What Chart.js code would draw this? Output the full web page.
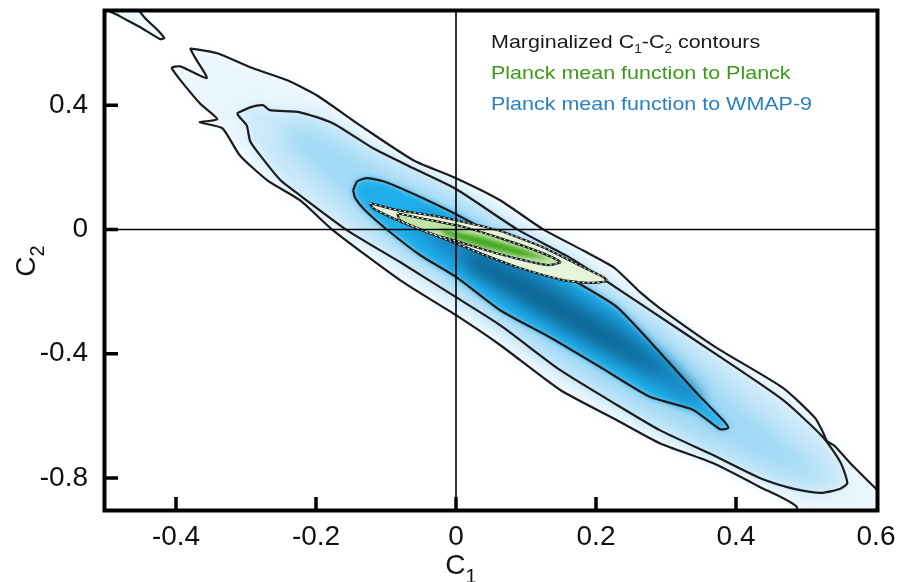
<!DOCTYPE html>
<html>
<head>
<meta charset="utf-8">
<script src="https://cdn.jsdelivr.net/npm/chart.js@4.4.1/dist/chart.umd.min.js"></script>
<style>
  html, body { margin: 0; padding: 0; background: #fff; }
  #wrap { width: 906px; height: 582px; }
</style>
</head>
<body>
<div id="wrap"><canvas id="contourChart" width="906" height="582"></canvas></div>
<script>
// Axis ranges and ticks
const xRange = [-0.5, 0.6];
const yRange = [-0.9, 0.7];
const xTicks = [-0.4, -0.2, 0, 0.2, 0.4, 0.6];
const yTicks = [-0.8, -0.4, 0, 0.4];
const xTitle = 'C1';
const yTitle = 'C2';
const legendLabels = ['Marginalized C1-C2 contours', 'Planck mean function to Planck', 'Planck mean function to WMAP-9'];

// WMAP-9 contours (C1, C2)
const sigma3Blue = [
  [-0.380, 0.583], [-0.341, 0.567], [-0.294, 0.522], [-0.241, 0.480], [-0.199, 0.432],
  [-0.137, 0.335], [-0.061, 0.223], [0, 0.165], [0.063, 0.094], [0.124, 0.001],
  [0.181, -0.067], [0.227, -0.125], [0.263, -0.202], [0.291, -0.253], [0.373, -0.382],
  [0.467, -0.510], [0.513, -0.607], [0.524, -0.652], [0.530, -0.681], [0.541, -0.697],
  [0.563, -0.752], [0.600, -0.835], [0.634, -0.909], [0.634, -1.0], [0.477, -0.967],
  [0.487, -0.894], [0.434, -0.829], [0.367, -0.752], [0.291, -0.688], [0.230, -0.614],
  [0.149, -0.517], [0.063, -0.372], [0, -0.276], [-0.080, -0.163], [-0.176, -0.002],
  [-0.223, 0.094], [-0.270, 0.159], [-0.309, 0.239], [-0.334, 0.326], [-0.366, 0.345],
  [-0.341, 0.355], [-0.366, 0.406], [-0.406, 0.519], [-0.394, 0.525], [-0.356, 0.487],
  [-0.373, 0.554]
];
const sigma3Island = [
  [-0.459, 0.722], [-0.444, 0.680], [-0.426, 0.641], [-0.417, 0.616], [-0.423, 0.613],
  [-0.451, 0.651], [-0.480, 0.686], [-0.501, 0.712]
];
const sigma2Blue = [
  [-0.313, 0.374], [-0.294, 0.393], [-0.276, 0.400], [-0.266, 0.384], [-0.223, 0.377],
  [-0.176, 0.342], [-0.119, 0.262], [-0.061, 0.197], [0, 0.130], [0.087, 0.001],
  [0.159, -0.086], [0.206, -0.153], [0.277, -0.260], [0.373, -0.404], [0.467, -0.549],
  [0.524, -0.668], [0.549, -0.749], [0.559, -0.816], [0.549, -0.835], [0.524, -0.848],
  [0.506, -0.845], [0.477, -0.832], [0.434, -0.800], [0.367, -0.726], [0.291, -0.646],
  [0.230, -0.565], [0.149, -0.453], [0.063, -0.308], [0, -0.218], [-0.080, -0.105],
  [-0.156, -0.002], [-0.223, 0.110], [-0.251, 0.159], [-0.280, 0.239], [-0.294, 0.284],
  [-0.299, 0.335], [-0.309, 0.361]
];
const sigma1Blue = [
  [-0.147, 0.126], [-0.141, 0.155], [-0.127, 0.165], [-0.104, 0.155], [-0.066, 0.120],
  [-0.023, 0.075], [0, 0.049], [0.063, -0.028], [0.159, -0.153], [0.230, -0.250],
  [0.301, -0.420], [0.349, -0.539], [0.381, -0.613], [0.389, -0.639], [0.377, -0.643],
  [0.339, -0.581], [0.277, -0.539], [0.206, -0.443], [0.134, -0.347], [0.063, -0.260],
  [0, -0.153], [-0.051, -0.083], [-0.094, -0.009], [-0.130, 0.062], [-0.144, 0.101]
];
// WMAP-9 density shading levels
const blueRidge = [
  [-0.237, 0.352], [-0.180, 0.303], [-0.109, 0.207], [0, 0.094], [0.149, -0.099],
  [0.291, -0.324], [0.406, -0.549], [0.491, -0.710], [0.534, -0.800], [0.506, -0.813],
  [0.434, -0.759], [0.349, -0.678], [0.234, -0.549], [0.120, -0.388], [0, -0.195],
  [-0.109, -0.018], [-0.194, 0.159], [-0.251, 0.287]
];
const blueCore = [
  [-0.051, 0.056], [0.020, -0.009], [0.120, -0.131], [0.234, -0.292], [0.320, -0.453],
  [0.356, -0.549], [0.341, -0.565], [0.277, -0.485], [0.163, -0.340], [0.049, -0.179],
  [-0.023, -0.067], [-0.059, 0.004]
];
const blueCoreDark = [
  [0.020, -0.067], [0.120, -0.179], [0.234, -0.340], [0.299, -0.453], [0.284, -0.459],
  [0.206, -0.372], [0.106, -0.244], [0.013, -0.115]
];

// Planck contours
const sigma2Planck = [
  [-0.123, 0.085], [-0.084, 0.062], [-0.037, 0.046], [-0.001, 0.030], [0.059, -0.002],
  [0.124, -0.057], [0.181, -0.121], [0.210, -0.153], [0.216, -0.166], [0.191, -0.172],
  [0.153, -0.163], [0.087, -0.121], [0.034, -0.076], [-0.001, -0.044], [-0.037, -0.012],
  [-0.084, 0.030], [-0.119, 0.069]
];
const sigma1Planck = [
  [-0.084, 0.052], [-0.037, 0.030], [0.006, 0.011], [0.063, -0.028], [0.120, -0.073],
  [0.149, -0.105], [0.131, -0.115], [0.063, -0.080], [0.006, -0.041], [-0.037, -0.012],
  [-0.080, 0.030]
];
const planckPeak = [
  [-0.023, 0.004], [0.034, -0.022], [0.091, -0.060], [0.134, -0.096], [0.091, -0.086],
  [0.034, -0.054], [-0.016, -0.018]
];

const fontFamily = '"Liberation Sans", Arial, Helvetica, sans-serif';

function closed(pts) {
  const out = pts.map(p => ({x: p[0], y: p[1]}));
  out.push({x: pts[0][0], y: pts[0][1]});
  return out;
}

// contour outline
function contourLine(pts, order) {
  return { data: closed(pts), borderColor: '#1c1c1c', borderWidth: 2.2, pointRadius: 0,
           fill: false, tension: 0.2, order: order };
}

// blurred density fill, painted by the shading plugin
function shade(pts, color, blur, order) {
  return { data: closed(pts), shade: true, shadeColor: color, blur: blur, showLine: false,
           borderWidth: 0, pointRadius: 0, fill: false, order: order };
}

function solidFill(pts, color, order) {
  return { data: closed(pts), backgroundColor: color, borderWidth: 0, pointRadius: 0,
           fill: 'shape', tension: 0.2, order: order };
}

// draw text, turning the digit after a C into a subscript
function drawSubText(ctx, text, x, y, size, align, subScale, subDrop) {
  const parts = text.split(/(?<=C)(\d)/);
  const pieces = parts.map((t, i) => ({t: t, sub: i % 2 === 1}));
  const fontFor = p => (p.sub ? Math.round(size * subScale) : size) + 'px ' + fontFamily;
  let total = 0;
  pieces.forEach(p => { ctx.font = fontFor(p); p.w = ctx.measureText(p.t).width; total += p.w; });
  let cx = align === 'center' ? x - total / 2 : x;
  ctx.textAlign = 'left';
  pieces.forEach(p => {
    ctx.font = fontFor(p);
    ctx.fillText(p.t, cx, p.sub ? y + size * subDrop : y);
    cx += p.w;
  });
}

const decorPlugin = {
  id: 'decor',
  beforeDatasetDraw(chart, args) {
    const ds = chart.data.datasets[args.index];
    if (!ds.shade) return;
    const {ctx, chartArea: a} = chart;
    const pts = args.meta.data;
    ctx.save();
    ctx.beginPath();
    ctx.rect(a.left, a.top, a.right - a.left, a.bottom - a.top);
    ctx.clip();
    ctx.filter = 'blur(' + ds.blur + 'px)';
    ctx.fillStyle = ds.shadeColor;
    ctx.beginPath();
    pts.forEach((p, i) => i ? ctx.lineTo(p.x, p.y) : ctx.moveTo(p.x, p.y));
    ctx.closePath();
    ctx.fill();
    ctx.restore();
  },
  afterDraw(chart) {
    const {ctx, chartArea: a, scales: {x, y}} = chart;
    ctx.save();
    // frame
    ctx.strokeStyle = '#000';
    ctx.lineWidth = 4;
    ctx.strokeRect(a.left - 1.5, a.top - 1.5, a.right - a.left + 3, a.bottom - a.top + 3);
    // inward tick marks
    ctx.lineWidth = 3.5;
    ctx.beginPath();
    xTicks.forEach(v => {
      if (v <= xRange[0] || v >= xRange[1]) return;
      const px = x.getPixelForValue(v);
      ctx.moveTo(px, a.bottom);
      ctx.lineTo(px, a.bottom - 12);
    });
    yTicks.forEach(v => {
      const py = y.getPixelForValue(v);
      ctx.moveTo(a.left, py);
      ctx.lineTo(a.left + 12, py);
    });
    ctx.stroke();

    // axis titles
    ctx.fillStyle = '#111';
    ctx.textBaseline = 'alphabetic';
    drawSubText(ctx, xTitle, x.getPixelForValue(0) + 5, 574, 28, 'center', 0.72, 0.32);
    ctx.save();
    ctx.translate(35, 261);
    ctx.rotate(-Math.PI / 2);
    drawSubText(ctx, yTitle, 0, 0, 28, 'center', 0.72, 0.32);
    ctx.restore();

    // legend text
    const legendColors = ['#1a1a1a', '#3c9a18', '#2a7fc2'];
    const sx = 1.13;
    ctx.save();
    ctx.scale(sx, 1);
    legendLabels.forEach((t, i) => {
      ctx.fillStyle = legendColors[i];
      drawSubText(ctx, t, 491 / sx, 48 + i * 31, 19, 'left', 0.65, 0.25);
    });
    ctx.restore();
    ctx.restore();
  }
};

Chart.defaults.font.family = fontFamily;

const datasets = [
  // crosshair
  { data: [{x: 0, y: yRange[0]}, {x: 0, y: yRange[1]}], borderColor: '#000', borderWidth: 1.6,
    pointRadius: 0, fill: false, order: 0 },
  { data: [{x: xRange[0], y: 0}, {x: xRange[1], y: 0}], borderColor: '#000', borderWidth: 1.6,
    pointRadius: 0, fill: false, order: 0 },
  // Planck outlines: black with white dashes
  { data: closed(sigma1Planck), borderColor: '#fff', borderWidth: 1, borderDash: [2, 3],
    pointRadius: 0, fill: false, tension: 0.2, order: 1 },
  { data: closed(sigma2Planck), borderColor: '#fff', borderWidth: 1, borderDash: [2, 3],
    pointRadius: 0, fill: false, tension: 0.2, order: 1 },
  contourLine(sigma1Planck, 2),
  contourLine(sigma2Planck, 2),
  shade(planckPeak, '#47a823', 2, 3),
  solidFill(sigma1Planck, '#bfe6a6', 4),
  solidFill(sigma2Planck, '#e4f5da', 5),
  // WMAP-9 outlines
  contourLine(sigma1Blue, 10),
  contourLine(sigma2Blue, 10),
  contourLine(sigma3Blue, 10),
  contourLine(sigma3Island, 10),
  // WMAP-9 density shading
  shade(blueCoreDark, '#0c6592', 8, 20),
  shade(blueCore, '#1886c0', 8, 21),
  shade(sigma1Blue, '#1eaeea', 3, 22),
  shade(blueRidge, '#9dd8f5', 12, 23),
  shade(sigma2Blue, '#cdeafa', 6, 24),
  shade(sigma3Island, '#eaf6fd', 4, 25),
  shade(sigma3Blue, '#eaf6fd', 5, 26)
];

new Chart(document.getElementById('contourChart'), {
  type: 'line',
  data: { datasets: datasets },
  options: {
    responsive: false,
    animation: false,
    devicePixelRatio: 1,
    events: [],
    layout: { padding: { left: 0, right: 30, top: 12, bottom: 0 } },
    plugins: { legend: { display: false }, tooltip: { enabled: false } },
    scales: {
      x: {
        type: 'linear',
        min: xRange[0],
        max: xRange[1],
        afterBuildTicks: s => { s.ticks = xTicks.map(v => ({value: v})); },
        afterFit: s => { s.height = 73; s.paddingLeft = 0; s.paddingRight = 0; },
        grid: { display: false, drawTicks: false },
        border: { display: false },
        ticks: { font: { size: 28 }, color: '#111', padding: 11, maxRotation: 0,
                 autoSkip: false, callback: v => String(v) }
      },
      y: {
        type: 'linear',
        min: yRange[0],
        max: yRange[1],
        afterBuildTicks: s => { s.ticks = yTicks.map(v => ({value: v})); },
        afterFit: s => { s.width = 106; s.paddingTop = 0; s.paddingBottom = 0; },
        grid: { display: false, drawTicks: false },
        border: { display: false },
        ticks: { font: { size: 28 }, color: '#111', padding: 18, autoSkip: false,
                 callback: v => String(v) }
      }
    }
  },
  plugins: [decorPlugin]
});
</script>
</body>
</html>
